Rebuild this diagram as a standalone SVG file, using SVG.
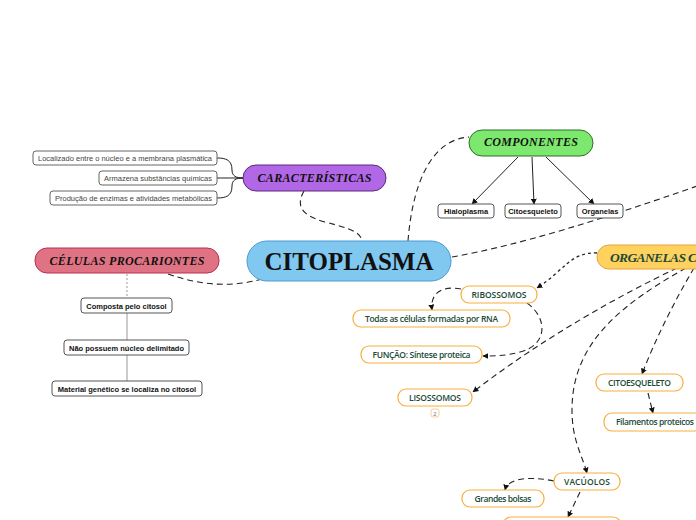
<svg xmlns="http://www.w3.org/2000/svg" width="696" height="520" viewBox="0 0 696 520">
<defs>
<marker id="ah" viewBox="0 0 10 10" refX="9" refY="5" markerWidth="6" markerHeight="6" orient="auto-start-reverse" markerUnits="userSpaceOnUse">
<path d="M0,0 L10,5 L0,10 z" fill="#111"/>
</marker>
<style>
.main{font-family:"Liberation Serif",serif;font-weight:bold;fill:#111}
.bi{font-family:"Liberation Serif",serif;font-weight:bold;font-style:italic;fill:#111}
.gbox{fill:#fff;stroke:#666;stroke-width:1}
.gtxt{font-family:"Liberation Sans",Arial,sans-serif;font-size:7.5px;fill:#444}
.pbox{fill:#fff;stroke:#555;stroke-width:1}
.ptxt{font-family:"Liberation Sans",Arial,sans-serif;font-size:7.5px;font-weight:bold;fill:#111}
.obox{fill:#fff;stroke:#F7AE3C;stroke-width:1.2}
.otxt{font-family:"Open Sans","Noto Sans",sans-serif;font-size:8.5px;font-weight:600;fill:#1B4A38}
.dash{fill:none;stroke:#222;stroke-width:1.1;stroke-dasharray:6,4}
.dot{fill:none;stroke:#222;stroke-width:1.3;stroke-dasharray:3,3}
.sol{fill:none;stroke:#222;stroke-width:1}
</style>
</defs>

<g id="connectors">
<path class="dash" d="M408,241 C412,190 428,140 469,137"/>
<path class="dash" d="M304,191 C296,205 300,215 325,222 C352,229 360,232 362,241"/>
<path class="dash" d="M452,257 C520,245 600,220 700,185"/>
<path class="dash" d="M168,274 C200,285 230,288 262,279"/>
<path class="sol" d="M217,178 L243,178"/>
<path class="sol" d="M243,178 C236,178 232,176 232,170 C232,160 226,158 217,158"/>
<path class="sol" d="M243,178 C236,178 232,180 232,186 C232,196 226,198 217,198"/>
<path class="sol" marker-end="url(#ah)" d="M518,157 L472,204"/>
<path class="sol" marker-end="url(#ah)" d="M532,157 L534,204"/>
<path class="sol" marker-end="url(#ah)" d="M546,157 L594,204"/>
<path d="M127,274 L127,298" fill="none" stroke="#999" stroke-width="1" stroke-dasharray="2,2"/>
<path d="M127,313 L127,340 M127,355 L127,381" fill="none" stroke="#999" stroke-width="1"/>
<path class="dot" marker-end="url(#ah)" d="M597,253 C570,252 565,270 537,288"/>
<path class="dash" marker-end="url(#ah)" d="M461,289 C440,285 430,295 432,310"/>
<path class="dash" marker-end="url(#ah)" d="M527,303 C548,318 548,345 520,352 C505,356 495,356 483,356"/>
<path class="dash" marker-end="url(#ah)" d="M677,268 C620,295 540,340 473,392"/>
<path class="dash" marker-end="url(#ah)" d="M686,268 C610,310 572,350 572,410 C572,440 582,455 587,473"/>
<path class="dash" marker-end="url(#ah)" d="M694,268 C675,300 655,340 642,374"/>
<path class="dash" marker-end="url(#ah)" d="M648,393 L653,413"/>
<path class="dash" marker-end="url(#ah)" d="M554,481 C530,476 508,478 505,490"/>
<path class="dash" marker-end="url(#ah)" d="M580,492 L568,517"/>
</g>

<g id="citoplasma">
<rect x="247" y="241" width="204" height="40" rx="20" fill="#80C8F0" stroke="#4B9BD3" stroke-width="1"/>
<text class="main" x="349" y="270" font-size="25" text-anchor="middle">CITOPLASMA</text>
</g>

<g id="caracteristicas">
<rect x="243" y="165" width="143" height="26" rx="13" fill="#B267E6" stroke="#5A2A7A" stroke-width="1"/>
<text class="bi" x="314.5" y="182" font-size="12" text-anchor="middle" textLength="114">CARACTERÍSTICAS</text>
</g>
<g id="c1"><rect class="gbox" x="33" y="151" width="184" height="14" rx="3"/><text class="gtxt" x="38" y="161" textLength="174">Localizado entre o núcleo e a membrana plasmática</text></g>
<g id="c2"><rect class="gbox" x="99" y="171" width="118" height="14" rx="3"/><text class="gtxt" x="104" y="181" textLength="108">Armazena substâncias químicas</text></g>
<g id="c3"><rect class="gbox" x="50" y="191" width="167" height="14" rx="3"/><text class="gtxt" x="55" y="201" textLength="157">Produção de enzimas e atividades metabólicas</text></g>

<g id="componentes">
<rect x="469" y="130" width="124" height="26" rx="13" fill="#7DE86E" stroke="#2F6E28" stroke-width="1"/>
<text class="bi" x="531" y="146" font-size="12" text-anchor="middle" textLength="94">COMPONENTES</text>
</g>
<g id="hialoplasma"><rect class="pbox" x="438" y="204" width="56" height="14" rx="3"/><text class="ptxt" x="466" y="214" text-anchor="middle">Hialoplasma</text></g>
<g id="citoesq1"><rect class="pbox" x="505" y="204" width="56" height="14" rx="3"/><text class="ptxt" x="533" y="214" text-anchor="middle">Citoesqueleto</text></g>
<g id="organelas1"><rect class="pbox" x="577" y="204" width="46" height="14" rx="3"/><text class="ptxt" x="600" y="214" text-anchor="middle">Organelas</text></g>

<g id="procariontes">
<rect x="35" y="248" width="184" height="25" rx="12" fill="#E07383" stroke="#B8304E" stroke-width="1"/>
<text class="bi" x="127" y="265" font-size="12" text-anchor="middle" textLength="155">CÉLULAS PROCARIONTES</text>
</g>
<g id="p1"><rect class="pbox" x="81" y="298" width="91" height="15" rx="3"/><text class="ptxt" x="126.5" y="308.5" text-anchor="middle">Composta pelo citosol</text></g>
<g id="p2"><rect class="pbox" x="64" y="340" width="125" height="15" rx="3"/><text class="ptxt" x="126.5" y="350.5" text-anchor="middle">Não possuem núcleo delimitado</text></g>
<g id="p3"><rect class="pbox" x="52" y="381" width="150" height="15" rx="3"/><text class="ptxt" x="127" y="391.5" text-anchor="middle">Material genético se localiza no citosol</text></g>

<g id="organelas">
<rect x="597" y="245" width="130" height="24" rx="12" fill="#FFD15E" stroke="#EBA23A" stroke-width="1"/>
<text class="bi" x="610" y="262" font-size="13.5" style="fill:#1B4A38" textLength="87">ORGANELAS C</text>
</g>

<g id="ribossomos"><rect class="obox" x="461" y="286" width="76" height="17" rx="8"/><text class="otxt" x="499" y="297.5" text-anchor="middle" textLength="55">RIBOSSOMOS</text></g>
<g id="todas"><rect class="obox" x="353" y="310" width="157" height="17" rx="8"/><text class="otxt" x="431.5" y="321.5" text-anchor="middle" textLength="133">Todas as células formadas por RNA</text></g>
<g id="funcao"><rect class="obox" x="361" y="346" width="121" height="17" rx="8"/><text class="otxt" x="421.5" y="357.5" text-anchor="middle" textLength="98">FUNÇÃO: Síntese proteica</text></g>
<g id="lisossomos"><rect class="obox" x="398" y="389" width="74" height="17" rx="8"/><text class="otxt" x="435" y="400.5" text-anchor="middle" textLength="52">LISOSSOMOS</text>
<rect x="431" y="409" width="8" height="8" rx="2" fill="#fff" stroke="#F7C37A" stroke-width="0.8"/><text x="435" y="415.5" font-family="Liberation Sans,sans-serif" font-size="6" fill="#777" text-anchor="middle">2</text></g>
<g id="citoesqueleto"><rect class="obox" x="596" y="374" width="87" height="17" rx="8"/><text class="otxt" x="639.5" y="385.5" text-anchor="middle" textLength="63">CITOESQUELETO</text></g>
<g id="filamentos"><rect class="obox" x="604" y="413" width="100" height="18" rx="8"/><text class="otxt" x="616" y="425" textLength="78">Filamentos proteicos</text></g>
<g id="vacuolos"><rect class="obox" x="554" y="473" width="66" height="17" rx="8"/><text class="otxt" x="587" y="484.5" text-anchor="middle" textLength="46">VACÚOLOS</text></g>
<g id="grandes"><rect class="obox" x="462" y="490" width="82" height="17" rx="8"/><text class="otxt" x="503" y="501.5" text-anchor="middle" textLength="57">Grandes bolsas</text></g>
<g id="vac2"><rect class="obox" x="503" y="517" width="118" height="17" rx="8"/></g>
</svg>
